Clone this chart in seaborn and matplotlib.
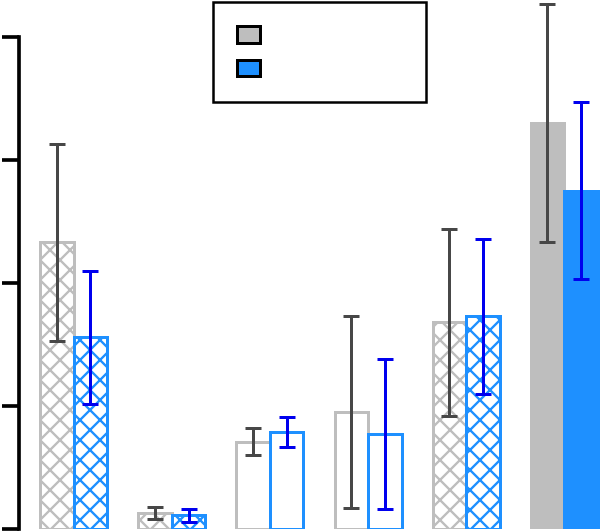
import numpy as np
import pandas as pd
import matplotlib
matplotlib.use("Agg")
import matplotlib.pyplot as plt
import seaborn as sns
from matplotlib.patches import Patch

# data
groups = ["G1", "G2", "G3", "G4", "G5", "G6"]
series = ["Series A", "Series B"]
gray_vals = [2.33, 0.13, 0.71, 0.95, 1.68, 3.30]
gray_err = [0.80, 0.05, 0.11, 0.78, 0.76, 0.97]
blue_vals = [1.56, 0.11, 0.79, 0.77, 1.73, 2.75]
blue_err = [0.54, 0.05, 0.12, 0.61, 0.63, 0.72]
yticks = [0, 1, 2, 3, 4]

# bar look per group
styles = ["hatch", "hatch", "open", "open", "hatch", "solid"]
bar_colors = ["#bebebe", "#1e90ff"]
err_colors = ["#474747", "#0000ee"]

df = pd.DataFrame({
    "group": groups * 2,
    "series": [series[0]] * len(groups) + [series[1]] * len(groups),
    "value": gray_vals + blue_vals,
})

sns.set_style("white")
plt.rcParams["hatch.linewidth"] = 1.4

fig = plt.figure(figsize=(5, 532 / 120), dpi=120)
ax = fig.add_axes([19 / 600, 3 / 532, 581 / 600, 529 / 532])

sns.barplot(data=df, x="group", y="value", hue="series", order=groups,
            hue_order=series, palette=bar_colors, width=0.683,
            errorbar=None, legend=False, ax=ax)

all_err = [gray_err, blue_err]
all_vals = [gray_vals, blue_vals]
xs = [[None] * len(groups), [None] * len(groups)]
for bar in ax.patches:
    cx = bar.get_x() + bar.get_width() / 2
    i = int(round(cx))
    k = 0 if cx < i else 1
    xs[k][i] = cx
    col = bar_colors[k]
    bar.set_linewidth(1.8)
    bar.set_edgecolor(col)
    if styles[i] == "hatch":
        bar.set_facecolor("white")
        bar.set_hatch("xx")
    elif styles[i] == "open":
        bar.set_facecolor("white")
    else:
        bar.set_facecolor(col)

for k in range(2):
    ax.errorbar(xs[k], all_vals[k], yerr=all_err[k], fmt="none",
                ecolor=err_colors[k], elinewidth=1.8, capsize=4.8,
                capthick=1.8, zorder=5)

ax.set_xlim(-0.558, 5.365)
ax.set_ylim(0, 4.3)
ax.set_yticks(yticks)
ax.set_yticklabels([""] * len(yticks))
ax.set_xticks([])
ax.set_xlabel("")
ax.set_ylabel("")
for s in ["top", "right", "bottom"]:
    ax.spines[s].set_visible(False)
ax.spines["left"].set_linewidth(2.2)
ax.spines["left"].set_color("black")
ax.spines["left"].set_bounds(0, 4)
ax.tick_params(axis="y", direction="out", length=10.5, width=2.2,
               color="black", left=True)

handles = [Patch(facecolor=c, edgecolor="black", linewidth=1.8,
                 joinstyle="round") for c in bar_colors]
leg = ax.legend(handles, ["", ""], loc="upper left",
                bbox_to_anchor=(0.334, 0.807, 0.366, 0.189), mode="expand",
                fontsize=10, handlelength=1.35, handleheight=1.15,
                labelspacing=0.93, borderpad=1.45, borderaxespad=0,
                fancybox=False, framealpha=1, edgecolor="black")
leg.get_frame().set_linewidth(1.5)

fig.savefig("out.png", dpi=120)
